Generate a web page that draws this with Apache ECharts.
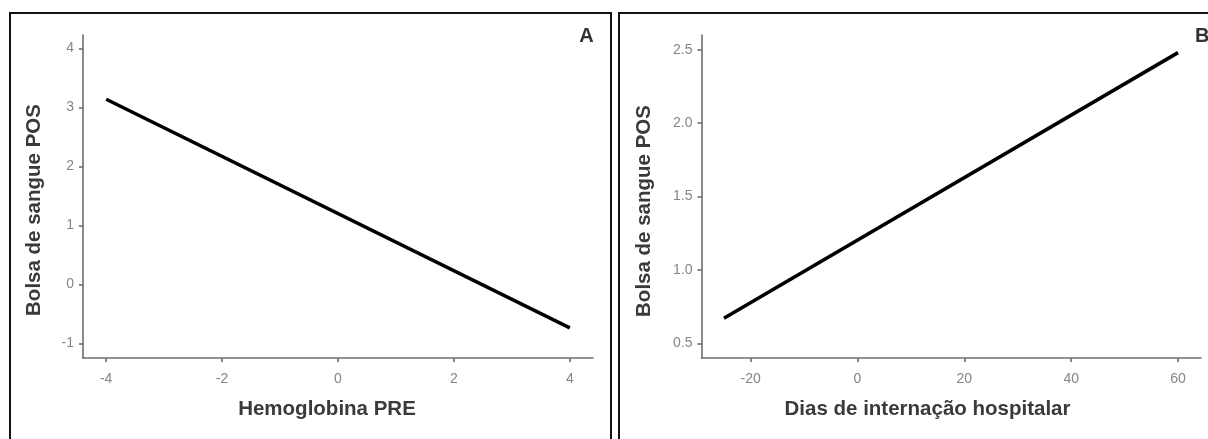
<!DOCTYPE html>
<html>
<head>
<meta charset="utf-8">
<script src="https://cdn.jsdelivr.net/npm/echarts@6/dist/echarts.min.js"></script>
<style>
html,body{margin:0;padding:0;background:#fff;}
#c{width:1208px;height:439px;}
</style>
</head>
<body>
<div id="c"></div>
<script>
// Panel A: Hemoglobina PRE vs Bolsa de sangue POS
const hemoglobinaPre = [-4, 4];
const bolsaPosA = [3.14, -0.74];
const ticksAX = [-4, -2, 0, 2, 4];
const ticksAY = [-1, 0, 1, 2, 3, 4];

// Panel B: Dias de internação hospitalar vs Bolsa de sangue POS
const diasInternacao = [-25, 60];
const bolsaPosB = [0.67, 2.48];
const ticksBX = [-20, 0, 20, 40, 60];
const ticksBY = [0.5, 1.0, 1.5, 2.0, 2.5];

const titleA_x = 'Hemoglobina PRE';
const titleB_x = 'Dias de internação hospitalar';
const titleY = 'Bolsa de sangue POS';
const panelLabels = ['A', 'B'];

const chart = echarts.init(document.getElementById('c'), null, {renderer: 'canvas'});

const axisLineStyle = {color: '#6e6e6e', width: 1.6};
const tickLabel = {color: '#858585', fontSize: 14, fontFamily: '"Liberation Sans", Arial, sans-serif'};
const titleFontStr = 'bold 20.5px "Liberation Sans", Arial, sans-serif';
const titleColor = '#3a3a3a';

function xAxis(grid, min, max, ticks) {
  return {
    type: 'value', gridIndex: grid, min: min, max: max,
    axisLine: {show: true, onZero: false, lineStyle: axisLineStyle},
    axisTick: {show: true, length: 4, customValues: ticks, lineStyle: axisLineStyle},
    axisLabel: Object.assign({customValues: ticks, margin: 14}, tickLabel),
    splitLine: {show: false}
  };
}
function yAxis(grid, min, max, ticks, fmt) {
  return {
    type: 'value', gridIndex: grid, min: min, max: max,
    axisLine: {show: true, onZero: false, lineStyle: axisLineStyle},
    axisTick: {show: true, length: 4, customValues: ticks, lineStyle: axisLineStyle},
    axisLabel: Object.assign({customValues: ticks, margin: 9, formatter: fmt}, tickLabel),
    splitLine: {show: false}
  };
}
function titleText(text, x, y, rot) {
  return {type: 'text', x: x, y: y, rotation: rot || 0,
    style: {text: text, fill: titleColor, font: titleFontStr, align: 'center', verticalAlign: 'middle'}, silent: true};
}

chart.setOption({
  animation: false,
  backgroundColor: '#ffffff',
  grid: [
    {left: 83, top: 35, width: 510, height: 323},
    {left: 701.5, top: 35, width: 499.5, height: 323}
  ],
  xAxis: [
    xAxis(0, -4.4, 4.4, ticksAX),
    xAxis(1, -29.2, 64.3, ticksBX)
  ],
  yAxis: [
    yAxis(0, -1.25, 4.23, ticksAY, v => String(v)),
    yAxis(1, 0.4, 2.6, ticksBY, v => v.toFixed(1))
  ],
  graphic: [
    {type: 'rect', shape: {x: 10, y: 13, width: 601, height: 460}, style: {fill: 'none', stroke: '#111', lineWidth: 2}, silent: true},
    {type: 'rect', shape: {x: 619, y: 13, width: 620, height: 460}, style: {fill: 'none', stroke: '#111', lineWidth: 2}, silent: true},
    {type: 'text', x: 586.5, y: 36, style: {text: panelLabels[0], fill: '#333', font: 'bold 20px "Liberation Sans", Arial, sans-serif', align: 'center', verticalAlign: 'middle'}, silent: true},
    {type: 'text', x: 1195, y: 36, style: {text: panelLabels[1], fill: '#333', font: 'bold 20px "Liberation Sans", Arial, sans-serif', align: 'left', verticalAlign: 'middle'}, silent: true},
    titleText(titleA_x, 327, 409),
    titleText(titleB_x, 927.5, 409),
    titleText(titleY, 34, 210, Math.PI / 2),
    titleText(titleY, 644.5, 211, Math.PI / 2)
  ],
  series: [
    {type: 'line', xAxisIndex: 0, yAxisIndex: 0, showSymbol: false, symbol: 'none',
     lineStyle: {color: '#000', width: 3.5}, data: hemoglobinaPre.map((x, i) => [x, bolsaPosA[i]])},
    {type: 'line', xAxisIndex: 1, yAxisIndex: 1, showSymbol: false, symbol: 'none',
     lineStyle: {color: '#000', width: 3.5}, data: diasInternacao.map((x, i) => [x, bolsaPosB[i]])}
  ]
});
</script>
</body>
</html>
